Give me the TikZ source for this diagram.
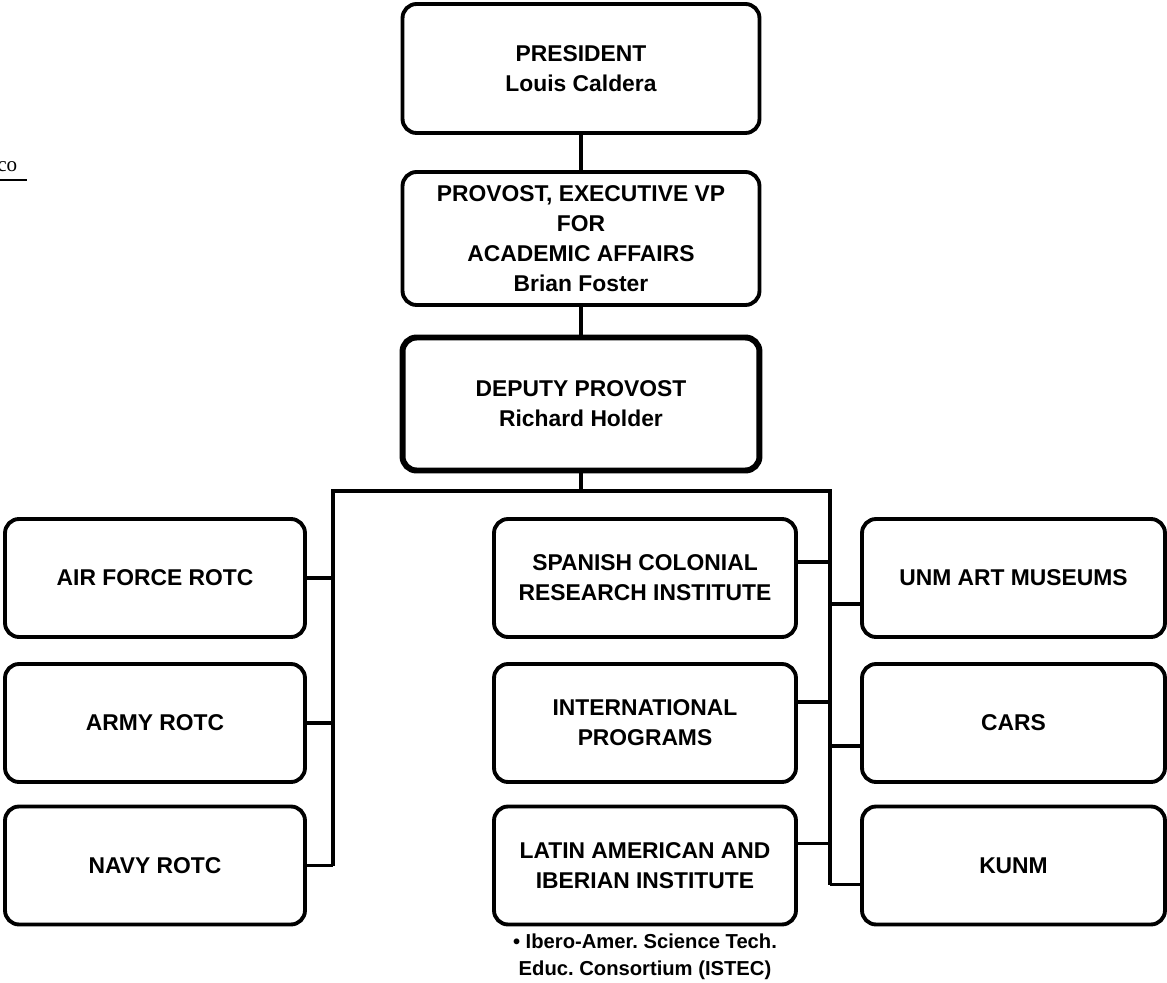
\documentclass[tikz,border=0pt]{standalone}
\usepackage{fontspec}
\setmainfont{Liberation Sans}
\newfontfamily\serifco{Liberation Serif}
\usetikzlibrary{calc}
\frenchspacing

\begin{document}
\begin{tikzpicture}[
      x=0.02cm, y=-0.02cm,
      unit/.style={draw=black, fill=white, rounded corners=0.28cm, line width=2.2pt, align=center, font=\fontsize{13pt}{17pt}\selectfont\bfseries, inner sep=0pt, minimum width=6.04cm, minimum height=2.36cm},
      head/.style={unit, minimum width=7.14cm},
      conn/.style={line width=2.2pt, color=black}
  ]
      \useasboundingbox (0,0) rectangle (1167,983);

      % cut-off title fragment
      \node[anchor=base west, inner sep=0pt, font=\serifco\fontsize{12pt}{14pt}\selectfont] (co) at (-3,172) {co};
      \draw[line width=0.9pt] (0,180) -- (27,180);

      % TOP
      \node[head, minimum height=2.58cm] (pres) at (581,68.5) {PRESIDENT\\Louis Caldera};
      \node[head, minimum height=2.66cm] (prov) at (581,238.5) {PROVOST, EXECUTIVE VP\\FOR\\ACADEMIC AFFAIRS\\Brian Foster};
      \node[head, minimum height=2.66cm, line width=3.4pt] (dep) at (581,404) {DEPUTY PROVOST\\Richard Holder};

      \draw[conn] (pres) -- (prov);
      \draw[conn] (prov) -- (dep);

      % LEFT COLUMN
      \node[unit, minimum width=6cm] (afrotc) at (155,578) {AIR FORCE ROTC};
      \node[unit, minimum width=6cm] (armyrotc) at (155,723) {ARMY ROTC};
      \node[unit, minimum width=6cm] (navyrotc) at (155,865.5) {NAVY ROTC};

      % MIDDLE COLUMN
      \node[unit] (scri) at (645,578) {SPANISH COLONIAL\\RESEARCH INSTITUTE};
      \node[unit] (intl) at (645,723) {INTERNATIONAL\\PROGRAMS};
      \node[unit] (laii) at (645,865.5) {LATIN AMERICAN AND\\IBERIAN INSTITUTE};
      \node[align=center, inner sep=0pt, font=\fontsize{11.5pt}{15.3pt}\selectfont\bfseries] (istec) at (645,957) {• Ibero-Amer. Science Tech.\\Educ. Consortium (ISTEC)};

      % RIGHT COLUMN
      \node[unit, minimum width=6.06cm] (museums) at (1013.5,578) {UNM ART MUSEUMS};
      \node[unit, minimum width=6.06cm] (cars) at (1013.5,723) {CARS};
      \node[unit, minimum width=6.06cm] (kunm) at (1013.5,865.5) {KUNM};

      % BUS
      \coordinate (busL) at (333,491);
      \coordinate (busR) at (830,491);
      \draw[conn] (dep) -- (dep.south |- busL);
      \draw[conn] (busL |- navyrotc.east) -- (busL) -- (busR) -- ($(busR |- kunm.west)+(0,19)$);

      \draw[conn] (afrotc.east) -- (afrotc.east -| busL);
      \draw[conn] (armyrotc.east) -- (armyrotc.east -| busL);
      \draw[conn] (navyrotc.east) -- (navyrotc.east -| busL);

      \draw[conn] ($(scri.east)+(0,-16)$) -- ($(scri.east -| busR)+(0,-16)$);
      \draw[conn] ($(intl.east)+(0,-21)$) -- ($(intl.east -| busR)+(0,-21)$);
      \draw[conn] ($(laii.east)+(0,-22)$) -- ($(laii.east -| busR)+(0,-22)$);

      \draw[conn] ($(museums.west -| busR)+(0,26)$) -- ($(museums.west)+(0,26)$);
      \draw[conn] ($(cars.west -| busR)+(0,23)$) -- ($(cars.west)+(0,23)$);
      \draw[conn] ($(kunm.west -| busR)+(0,19)$) -- ($(kunm.west)+(0,19)$);
  \end{tikzpicture}
\end{document}
